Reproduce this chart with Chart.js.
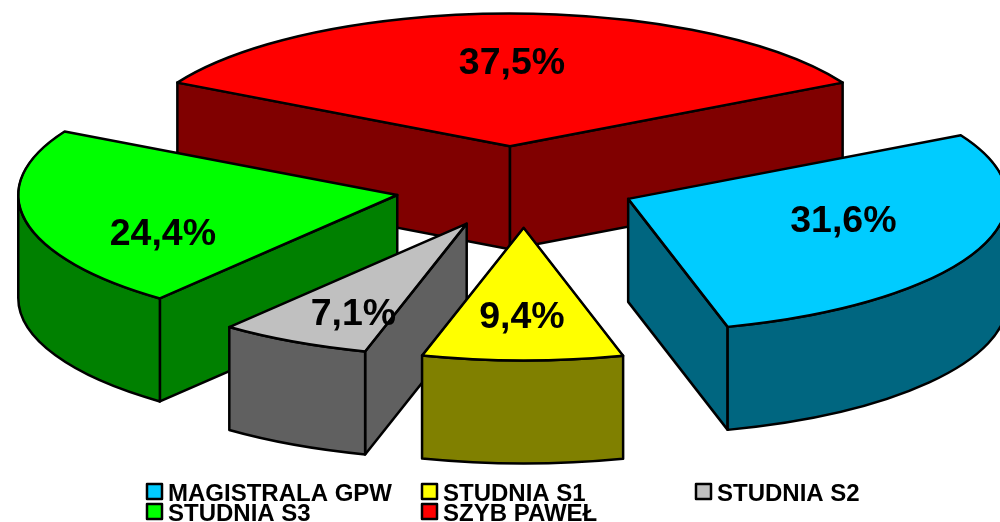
<!DOCTYPE html>
<html><head><meta charset="utf-8">
<style>html,body{margin:0;padding:0;background:#fff}#wrap{position:relative;width:1000px;height:522px}</style>
<script src="https://cdn.jsdelivr.net/npm/chart.js@4"></script>
</head><body><div id="wrap"><canvas id="c" width="1000" height="522"></canvas></div>
<script>
const categories = ["MAGISTRALA GPW","STUDNIA S1","STUDNIA S2","STUDNIA S3","SZYB PAWEŁ"];
const values = [31.6, 9.4, 7.1, 24.4, 37.5];
const topColors = ["#00CCFF","#FFFF00","#C0C0C0","#00FF00","#FF0000"];
const sideColors = ["#006680","#808000","#606060","#008000","#800000"];
const explode = [123,128,108,117,108];
const nudge = [[3,-2],[12,-1],[4,6],[0,3],[-2,0]];
const paintOrder = [4,3,0,2,1];
const labelShift = [[-1,-9],[-1,8],[-6,18],[-4,24],[2,0]];
const legendCols = [146,421,695];
const legendRows = [492,512];

const squash = 0.35, depth = 103, cx = 512, cy = 184;
const total = values.reduce((a,b)=>a+b,0);

const pie3d = {
  id:'pie3d',
  beforeDatasetsDraw(chart){
    const ctx = chart.ctx, arcs = chart.getDatasetMeta(0).data;
    ctx.save();
    ctx.beginPath(); ctx.rect(0,0,1000,522); ctx.clip();
    const place = (i,arc)=>{
      const m = (arc.startAngle+arc.endAngle)/2;
      return [cx+Math.cos(m)*explode[i]+nudge[i][0], cy+Math.sin(m)*explode[i]*squash+nudge[i][1]];
    };
    paintOrder.forEach(i=>{
      const arc = arcs[i], R = arc.outerRadius, s = arc.startAngle, e = arc.endAngle;
      const [ox,oy] = place(i,arc);
      ctx.lineWidth = 2.5; ctx.lineJoin='round'; ctx.strokeStyle='#000'; ctx.fillStyle = sideColors[i];
      const P = a=>[ox+R*Math.cos(a), oy+R*squash*Math.sin(a)];
      const wall = (a)=>{
        const p = P(a);
        ctx.beginPath(); ctx.moveTo(ox,oy); ctx.lineTo(p[0],p[1]); ctx.lineTo(p[0],p[1]+depth); ctx.lineTo(ox,oy+depth); ctx.closePath();
        ctx.fill(); ctx.stroke();
      };
      if (Math.cos(s)<0) wall(s);
      if (Math.cos(e)>0) wall(e);
      for (let n=-1;n<=1;n++){
        const a0=Math.max(s,2*Math.PI*n), a1=Math.min(e,Math.PI+2*Math.PI*n);
        if (a1>a0){
          ctx.beginPath();
          ctx.ellipse(ox,oy,R,R*squash,0,a0,a1);
          ctx.ellipse(ox,oy+depth,R,R*squash,0,a1,a0,true);
          ctx.closePath(); ctx.fill(); ctx.stroke();
        }
      }
      ctx.save();
      ctx.translate(ox,oy); ctx.scale(1,squash); ctx.translate(-arc.x,-arc.y);
      arc.draw(ctx);
      ctx.restore();
      ctx.beginPath(); ctx.moveTo(ox,oy); ctx.ellipse(ox,oy,R,R*squash,0,s,e); ctx.closePath(); ctx.stroke();
    });
    ctx.fillStyle='#000'; ctx.textAlign='center'; ctx.textBaseline='middle';
    ctx.font='bold 37.5px "Liberation Sans"';
    arcs.forEach((arc,i)=>{
      const [ox,oy]=place(i,arc); const m=(arc.startAngle+arc.endAngle)/2, R=arc.outerRadius*0.62;
      const t = values[i].toFixed(1).replace('.',',')+'%';
      ctx.fillText(t, ox+R*Math.cos(m)+labelShift[i][0], oy+R*squash*Math.sin(m)+labelShift[i][1]);
    });
    ctx.textAlign='left';
    ctx.font='bold 24px "Liberation Sans"';
    categories.forEach((name,i)=>{
      const x=legendCols[i%3], y=legendRows[Math.floor(i/3)];
      ctx.fillStyle=topColors[i]; ctx.fillRect(x+1,y-8,15,15);
      ctx.lineWidth=2.5; ctx.strokeStyle='#000'; ctx.strokeRect(x+1,y-8,15,15);
      ctx.fillStyle='#000'; ctx.fillText(name,x+22,y+2);
    });
    ctx.restore();
    return false;
  }
};

new Chart(document.getElementById('c'),{
  type:'pie',
  data:{labels:categories,datasets:[{data:values,backgroundColor:topColors,borderColor:'#000',borderWidth:2,radius:379}]},
  options:{responsive:false,animation:false,rotation:0.5*values[4]/total*360,
    plugins:{legend:{display:false},tooltip:{enabled:false}},layout:{padding:0}},
  plugins:[pie3d]
});
</script></body></html>
